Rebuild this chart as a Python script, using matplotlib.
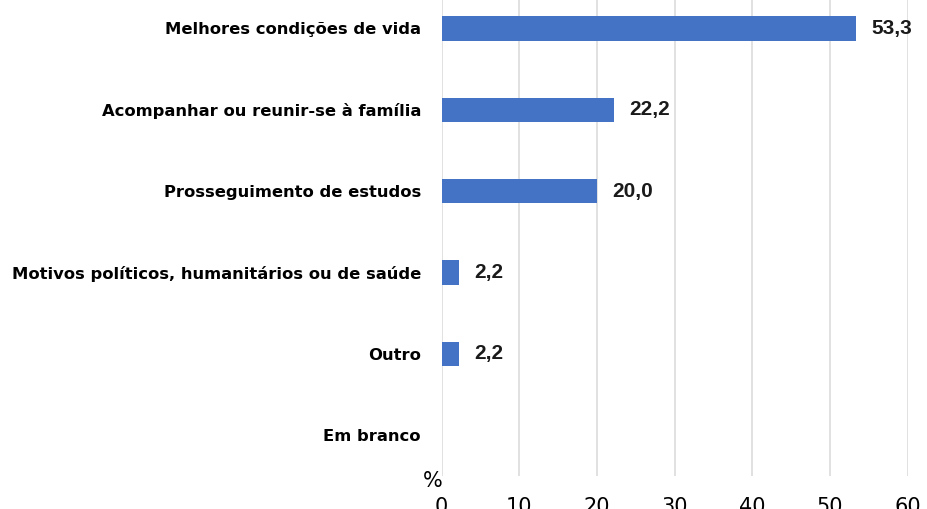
import matplotlib.pyplot as plt
import numpy as np

# dados
categorias = ['Melhores condições de vida', 'Acompanhar ou reunir-se à família',
              'Prosseguimento de estudos', 'Motivos políticos, humanitários ou de saúde',
              'Outro', 'Em branco']
valores = [53.3, 22.2, 20.0, 2.2, 2.2, 0.0]
rotulos = ['53,3', '22,2', '20,0', '2,2', '2,2', '']
ticks_x = [0, 10, 20, 30, 40, 50, 60]

fig = plt.figure(figsize=(9.28, 5.09), dpi=100)
ax = fig.add_axes([0.476, 0.065, 0.502, 0.959])

y = np.arange(len(categorias))
ax.barh(y, valores, height=0.3, color='#4472C4', zorder=3)
ax.set_ylim(len(categorias) - 0.5, -0.5)
ax.set_xlim(0, 60)

# rótulos de valor
for yi, v, r in zip(y, valores, rotulos):
    if r:
        ax.text(v + 2.0, yi, r, va='center', ha='left', fontsize=15,
                fontweight='bold', family='Liberation Sans', color='#1a1a1a')

ax.set_yticks(y)
ax.set_yticklabels(categorias, fontsize=11.8, fontweight='bold', family='DejaVu Sans')
ax.tick_params(axis='y', length=0, pad=15)
ax.set_xticks(ticks_x)
ax.set_xticklabels([str(t) for t in ticks_x], fontsize=15, family='DejaVu Sans')
ax.tick_params(axis='x', length=0, pad=15)

ax.grid(axis='x', color='#DCDCDC', linewidth=1.2, zorder=0)
for s in ax.spines.values():
    s.set_visible(False)

fig.text(0.466, 0.055, '%', fontsize=15, ha='center', va='center', family='DejaVu Sans')

fig.savefig('out.png', dpi=100)
